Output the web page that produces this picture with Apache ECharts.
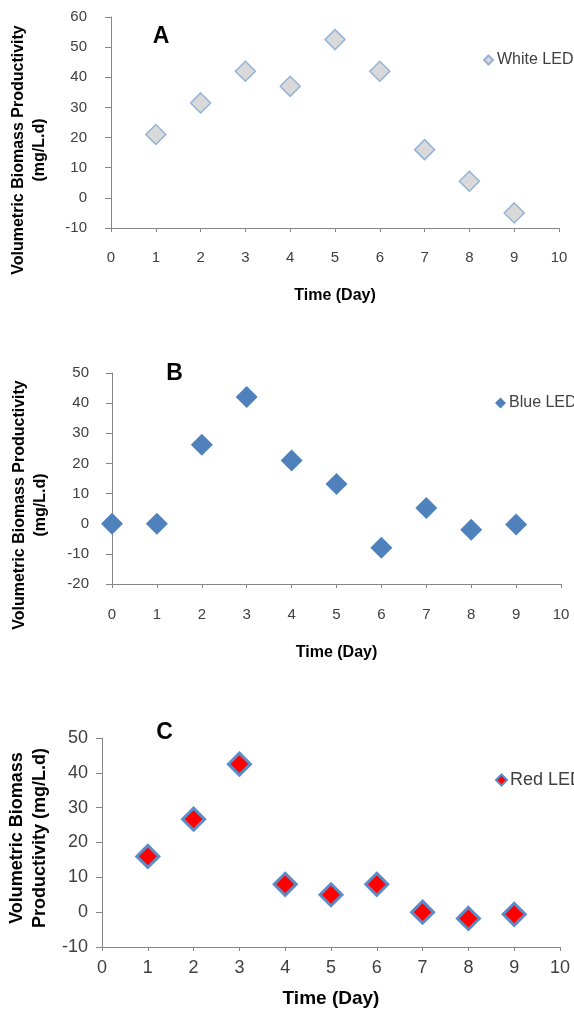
<!DOCTYPE html>
<html>
<head>
<meta charset="utf-8">
<script src="https://cdn.jsdelivr.net/npm/echarts@6/dist/echarts.min.js"></script>
<style>
html,body{margin:0;padding:0;background:#fff;}
#chart{width:574px;height:1012px;}
</style>
</head>
<body>
<div id="chart"></div>
<script>
// ---- data ----
const daysA = [1, 2, 3, 4, 5, 6, 7, 8, 9];
const whiteLED = [21, 31.5, 42, 37, 52.5, 42, 16, 5.5, -5];
const daysB = [0, 1, 2, 3, 4, 5, 6, 7, 8, 9];
const blueLED = [0, 0, 26.2, 42, 21, 13.2, -8, 5.2, -2, -0.3];
const daysC = [1, 2, 3, 4, 5, 6, 7, 8, 9];
const redLED = [16, 26.7, 42.5, 8, 5, 8, 0, -1.8, -0.6];
const seriesNames = ['White LED', 'Blue LED', 'Red LED'];
const panelLetters = ['A', 'B', 'C'];
const xTitle = 'Time (Day)';
const yTitleAB = 'Volumetric Biomass Productivity\n(mg/L.d)';
const yTitleC = 'Volumetric Biomass\nProductivity (mg/L.d)';

const FONT = '"Liberation Sans", Arial, sans-serif';
const AXIS_COLOR = '#868686';
const LABEL_COLOR = '#404040';

function pairs(xs, ys) { return xs.map((x, i) => [x, ys[i]]); }

function xAxis(grid, fs, margin, gap, nameFs) {
  return {
    type: 'value', gridIndex: grid, min: 0, max: 10, interval: 1,
    axisLine: { show: true, onZero: false, lineStyle: { color: AXIS_COLOR, width: 1 } },
    axisTick: { show: true, length: 4, lineStyle: { color: AXIS_COLOR } },
    splitLine: { show: false },
    axisLabel: { margin: margin, color: LABEL_COLOR, fontSize: fs, fontFamily: FONT },
    name: xTitle, nameLocation: 'middle', nameGap: gap,
    nameTextStyle: { fontSize: nameFs, fontWeight: 'bold', color: '#000', fontFamily: FONT }
  };
}
function yAxis(grid, min, max, fs, margin) {
  return {
    type: 'value', gridIndex: grid, min: min, max: max, interval: 10,
    axisLine: { show: true, onZero: false, lineStyle: { color: AXIS_COLOR, width: 1 } },
    axisTick: { show: true, length: 6, lineStyle: { color: AXIS_COLOR } },
    splitLine: { show: false },
    axisLabel: { margin: margin, color: LABEL_COLOR, fontSize: fs, fontFamily: FONT }
  };
}
function rotText(x, y, text, fs, lh) {
  return {
    type: 'text', x: x, y: y, rotation: Math.PI / 2,
    style: { text: text, font: 'bold ' + fs + 'px ' + FONT, fill: '#000',
      align: 'center', verticalAlign: 'middle', textAlign: 'center', textVerticalAlign: 'middle', lineHeight: lh }
  };
}
function letter(x, y, t, fs) {
  return {
    type: 'text', x: x, y: y,
    style: { text: t, font: 'bold ' + fs + 'px ' + FONT, fill: '#000',
      align: 'center', verticalAlign: 'middle', textAlign: 'center', textVerticalAlign: 'middle' }
  };
}

const option = {
  backgroundColor: '#fff',
  animation: false,
  grid: [
    { left: 111, top: 17, width: 448, height: 211 },
    { left: 112, top: 373, width: 449, height: 211 },
    { left: 102, top: 738, width: 458, height: 209 }
  ],
  xAxis: [
    xAxis(0, 15, 22, 60, 16),
    xAxis(1, 15, 23, 61, 16),
    xAxis(2, 18, 12, 42, 19)
  ],
  yAxis: [
    yAxis(0, -10, 60, 15, 24),
    yAxis(1, -20, 50, 15, 23),
    yAxis(2, -10, 50, 18, 14)
  ],
  legend: [
    { data: [seriesNames[0]], left: 478, top: 47, icon: 'diamond', itemWidth: 9, itemHeight: 9,
      textStyle: { fontSize: 16, color: LABEL_COLOR, fontFamily: FONT, padding: [0, 0, 0, -1] } },
    { data: [seriesNames[1]], left: 490, top: 390, icon: 'diamond', itemWidth: 11, itemHeight: 11,
      textStyle: { fontSize: 16, color: LABEL_COLOR, fontFamily: FONT, padding: [0, 0, 0, -2] } },
    { data: [seriesNames[2]], left: 490, top: 766, icon: 'diamond', itemWidth: 11, itemHeight: 11,
      textStyle: { fontSize: 18, color: LABEL_COLOR, fontFamily: FONT, padding: [0, 0, 0, -2] } }
  ],
  graphic: [
    rotText(29.5, 150, yTitleAB, 16, 21),
    rotText(30, 505, yTitleAB, 16, 21),
    rotText(29, 838, yTitleC, 18, 23),
    letter(161, 37, panelLetters[0], 23),
    letter(174.5, 374, panelLetters[1], 23),
    letter(164.5, 733, panelLetters[2], 23)
  ],
  series: [
    { name: seriesNames[0], type: 'scatter', xAxisIndex: 0, yAxisIndex: 0,
      symbol: 'diamond', symbolSize: 20, data: pairs(daysA, whiteLED),
      itemStyle: { color: '#d9d9d9', borderColor: '#95b3d7', borderWidth: 1.5, opacity: 1 } },
    { name: seriesNames[1], type: 'scatter', xAxisIndex: 1, yAxisIndex: 1,
      symbol: 'diamond', symbolSize: 22, data: pairs(daysB, blueLED),
      itemStyle: { color: '#4f81bd', opacity: 1 } },
    { name: seriesNames[2], type: 'scatter', xAxisIndex: 2, yAxisIndex: 2,
      symbol: 'diamond', symbolSize: 22, data: pairs(daysC, redLED),
      itemStyle: { color: '#ff0000', borderColor: '#5b8cc8', borderWidth: 3, opacity: 1 } }
  ]
};
const chart = echarts.init(document.getElementById('chart'), null, { renderer: 'canvas' });
chart.setOption(option);
</script>
</body>
</html>
